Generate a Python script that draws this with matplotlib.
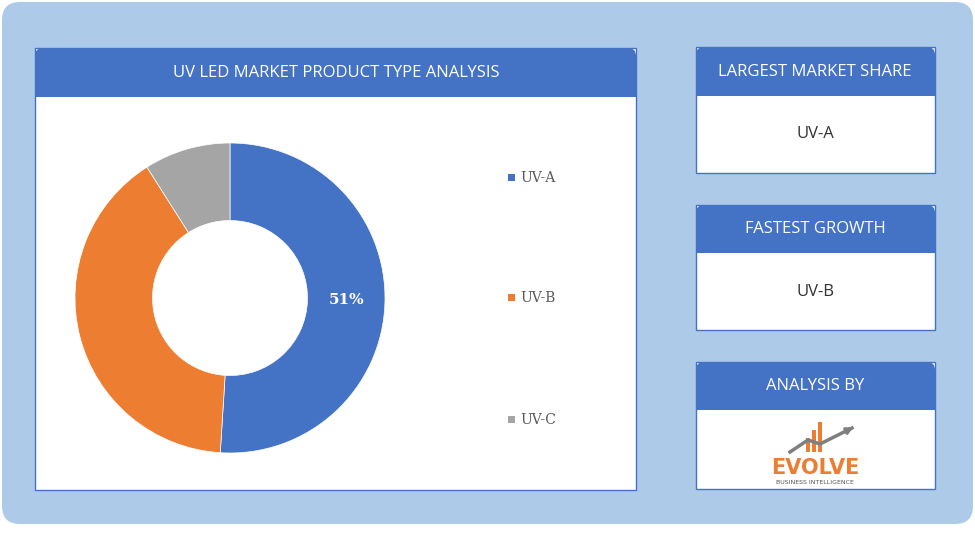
import matplotlib
matplotlib.use("Agg")
import matplotlib.pyplot as plt
from matplotlib.patches import FancyBboxPatch, Rectangle

categories = ["UV-A", "UV-B", "UV-C"]
shares = [51, 40, 9]
colors = ["#4472c4", "#ed7d31", "#a5a5a5"]
title = "UV LED MARKET PRODUCT TYPE ANALYSIS"
side_titles = ["LARGEST MARKET SHARE", "FASTEST GROWTH", "ANALYSIS BY"]
side_values = ["UV-A", "UV-B"]

W, H = 975, 538
fig = plt.figure(figsize=(W/100, H/100), dpi=100)
bg = fig.add_axes([0, 0, 1, 1])
bg.set_xlim(0, W); bg.set_ylim(H, 0); bg.axis("off")

def rbox(x0, y0, x1, y1, fc, ec="none", r=8, lw=1, z=1):
    bg.add_patch(FancyBboxPatch((x0, y0), x1-x0, y1-y0,
                 boxstyle=f"round,pad=0,rounding_size={r}", fc=fc, ec=ec, lw=lw, zorder=z))

rbox(2, 2, 973, 524, "#adcbe9", r=18)
bg.add_patch(Rectangle((35, 48), 601, 442, fc="white", ec="#4472c4", lw=1, zorder=2))
rbox(35, 48, 636, 97, "#4472c4", r=8, z=3)
bg.add_patch(Rectangle((35, 80), 601, 17, fc="#4472c4", zorder=3))
bg.text(336, 73, title, color="white", fontsize=12, ha="center", va="center",
        family="Open Sans", zorder=4)

boxes = [(47, 173, 96), (205, 330, 253), (362, 489, 410)]
for i, (y0, y1, yh) in enumerate(boxes):
    bg.add_patch(Rectangle((696, y0), 239, y1-y0, fc="white", ec="#4472c4", lw=1, zorder=2))
    rbox(696, y0, 935, yh, "#4472c4", r=8, z=3)
    bg.add_patch(Rectangle((696, yh-16), 239, 16, fc="#4472c4", zorder=3))
    bg.text(815, (y0+yh)/2, side_titles[i], color="white", fontsize=12, ha="center",
            va="center", family="Open Sans", zorder=4)
    if i < 2:
        bg.text(815, (yh+y1)/2, side_values[i], color="#333333", fontsize=12,
                ha="center", va="center", family="Open Sans", zorder=4)

for k, (bx, bh) in enumerate([(806, 14), (812, 22), (818, 30)]):
    bg.add_patch(Rectangle((bx, 452-bh), 4, bh, fc="#ed7d31", zorder=4))
bg.plot([790, 808, 820, 852], [452, 440, 444, 428], color="#7f7f7f", lw=2.5, zorder=5)
bg.annotate("", xy=(856, 426), xytext=(840, 434),
            arrowprops=dict(arrowstyle="-|>", color="#7f7f7f", lw=2), zorder=5)
bg.text(815, 468, "EVOLVE", color="#ed7d31", fontsize=15, fontweight="bold",
        ha="center", va="center", family="DejaVu Sans", zorder=4)
bg.text(815, 483, "BUSINESS INTELLIGENCE", color="#555555", fontsize=4.5,
        ha="center", va="center", zorder=4)

cx, cy, R = 230, 298, 155
ax = fig.add_axes([(cx-R)/W, 1-(cy+R)/H, 2*R/W, 2*R/H])
ax.pie(shares, colors=colors, startangle=90, counterclock=False,
       wedgeprops=dict(width=0.5, edgecolor="white", linewidth=0.5))
ax.set_aspect("equal"); ax.set_xlim(-1, 1); ax.set_ylim(-1, 1)
ax.text((347-cx)/R, -(300-cy)/R, f"{shares[0]}%", color="white", fontsize=11,
        fontweight="bold", family="DejaVu Serif", ha="center", va="center", zorder=5)

for i, (c, yy) in enumerate(zip(categories, [178, 298, 420])):
    bg.add_patch(Rectangle((508, yy-4), 7, 7, fc=colors[i], zorder=4))
    bg.text(520, yy, c, color="#595959", fontsize=10, family="DejaVu Serif",
            va="center", ha="left", zorder=4)

fig.savefig("out.png", dpi=100)
